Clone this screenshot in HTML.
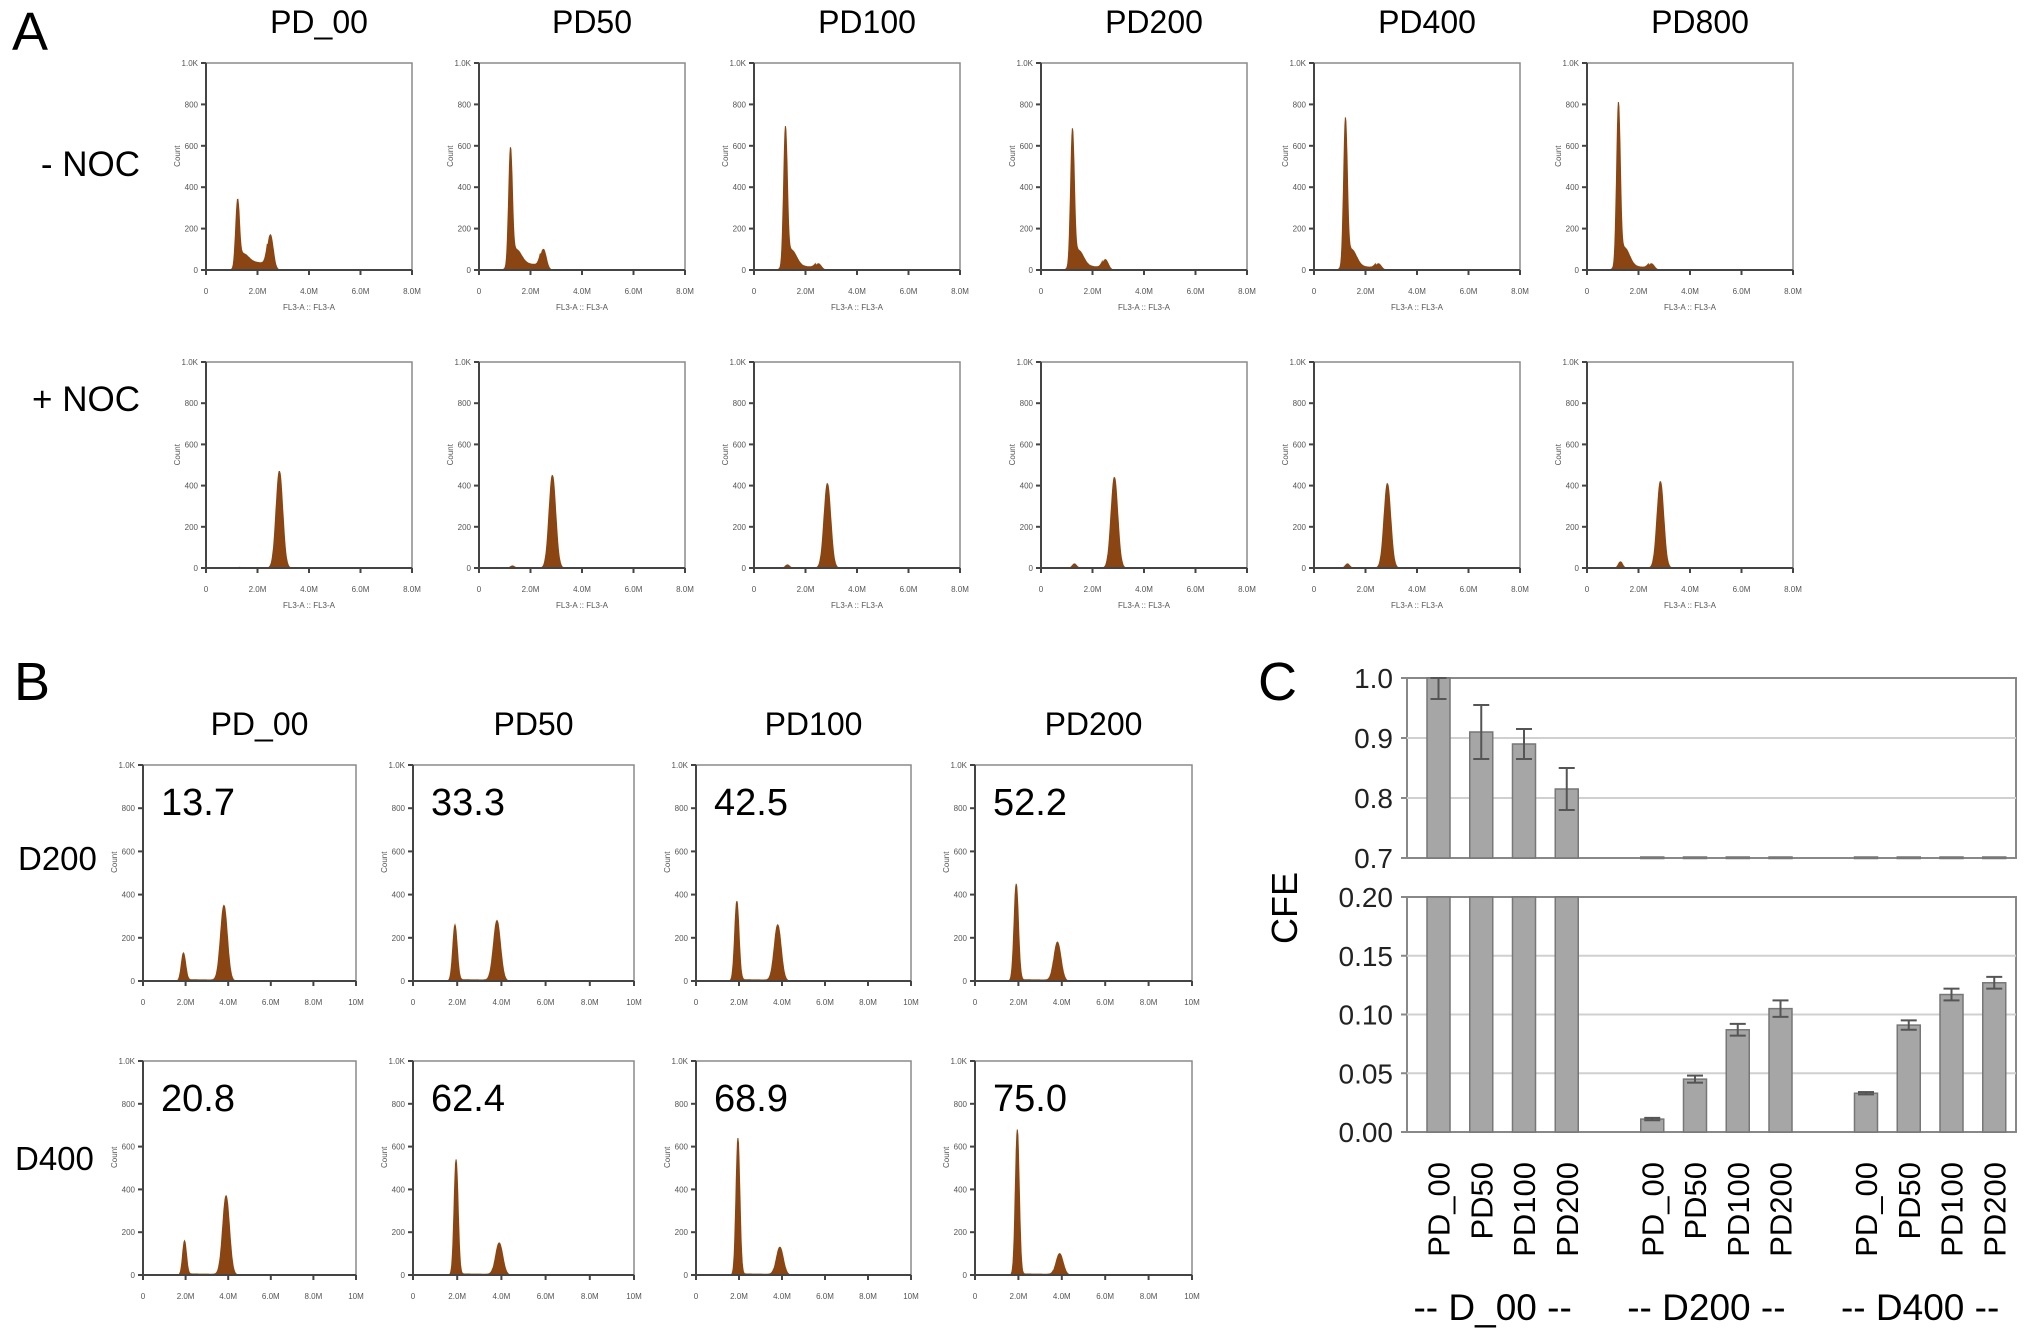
<!DOCTYPE html>
<html><head><meta charset="utf-8">
<style>
html,body{margin:0;padding:0;background:#fff;}
svg{display:block;font-family:"Liberation Sans",Arial,sans-serif;}
</style></head>
<body>
<svg id="fig" width="2031" height="1343" viewBox="0 0 2031 1343" xmlns="http://www.w3.org/2000/svg">
<g id="labels">
<text x="12" y="50" font-size="54">A</text>
<text x="14" y="700" font-size="54">B</text>
<text x="1258" y="700" font-size="54">C</text>
<text x="140" y="176" font-size="35" text-anchor="end">- NOC</text>
<text x="140" y="411" font-size="35" text-anchor="end">+ NOC</text>
<text x="18" y="870" font-size="33">D200</text>
<text x="15" y="1170" font-size="33">D400</text>
</g>
<g id="histA"></g>
<g id="histB"></g>
<g id="chartC"></g>
</svg>
<script>
// ---- Panel A data ----
const aTitles = ["PD_00","PD50","PD100","PD200","PD400","PD800"];
const aG1NocMinus = [310,550,650,640,690,760];      // G1 peak counts (-NOC)
const aG2NocMinus = [170,100,30,50,30,30];         // G2 peak counts (-NOC)
const aSNocMinus = [45,35,20,20,18,18];            // S-phase plateau
const aG2NocPlus = [470,450,410,440,410,420];      // G2/M peak (+NOC)
const aG1NocPlus = [3,10,15,20,20,30];             // residual G1 (+NOC)
const aXTicks = ["0","2.0M","4.0M","6.0M","8.0M"];
const aXMax = 8;
// ---- Panel B data ----
const bTitles = ["PD_00","PD50","PD100","PD200"];
const bD200Values = ["13.7","33.3","42.5","52.2"];
const bD400Values = ["20.8","62.4","68.9","75.0"];
const bD200G1 = [130,260,370,450];
const bD200G2 = [350,280,260,180];
const bD400G1 = [160,540,640,680];
const bD400G2 = [370,150,130,100];
const bXTicks = ["0","2.0M","4.0M","6.0M","8.0M","10M"];
const bXMax = 10;
const yTicks = ["0","200","400","600","800","1.0K"];
// ---- Panel C data ----
const cCategories = ["PD_00","PD50","PD100","PD200"];
const cGroups = ["-- D_00 --","-- D200 --","-- D400 --"];
const cD00 = [1.0,0.91,0.89,0.815];
const cD00Err = [0.035,0.045,0.025,0.035];
const cD200 = [0.011,0.045,0.087,0.105];
const cD200Err = [0.001,0.003,0.005,0.007];
const cD400 = [0.033,0.091,0.117,0.127];
const cD400Err = [0.001,0.004,0.005,0.005];
const cUpperTicks = ["0.7","0.8","0.9","1.0"];
const cLowerTicks = ["0.00","0.05","0.10","0.15","0.20"];

const NS="http://www.w3.org/2000/svg";
function mk(tag,attrs,parent){const e=document.createElementNS(NS,tag);for(const k in attrs)e.setAttribute(k,attrs[k]);if(parent)parent.appendChild(e);return e;}
const BROWN="#8a4512";

function histo(parent,x0,y0,w,h,xmax,xt,peaks,title,numLabel,showFL){
  const g=mk('g',{},parent);
  
  
  const sx=v=>x0+v/xmax*w, sy=c=>y0+h-c/1000*h;
  let d=`M${x0},${y0+h}`;
  for(let i=0;i<=400;i++){
    const v=i/400*xmax;let c=0;
    peaks.forEach(p=>{ if(p.type==='g') c+=p.h*Math.exp(-0.5*Math.pow((v-p.x)/p.s,2));
      else if(p.type==='s'){ if(v>p.a&&v<p.b) c+=p.h*(1-0.3*(v-p.a)/(p.b-p.a))*Math.min(1,(v-p.a)/0.08); } });
    d+=` L${sx(v).toFixed(1)},${Math.max(y0,sy(c)).toFixed(1)}`;
  }
  d+=` L${x0+w},${y0+h} Z`;
  const path=mk('path',{d:d,fill:BROWN,stroke:BROWN,'stroke-width':1},g);
  
  
  const fr=mk('rect',{x:x0,y:y0,width:w,height:h,fill:'none',stroke:'#8a8a8a','stroke-width':1.5},g);
  
  
  mk('line',{x1:x0,y1:y0,x2:x0,y2:y0+h,stroke:'#444','stroke-width':2},g);
  mk('line',{x1:x0,y1:y0+h,x2:x0+w,y2:y0+h,stroke:'#444','stroke-width':2},g);
  yTicks.forEach((t,i)=>{const yy=sy(i*200);
    mk('line',{x1:x0-5,y1:yy,x2:x0,y2:yy,stroke:'#444','stroke-width':2},g);
    const tx=mk('text',{x:x0-8,y:yy+3,'font-size':8,'text-anchor':'end',fill:'#555'},g);tx.textContent=t;});
  xt.forEach((t,i)=>{const xx=x0+i/(xt.length-1)*w;
    mk('line',{x1:xx,y1:y0+h,x2:xx,y2:y0+h+5,stroke:'#444','stroke-width':2},g);
    const tx=mk('text',{x:xx,y:y0+h+24,'font-size':8,'text-anchor':'middle',fill:'#555'},g);tx.textContent=t;});
  const cy=mk('text',{x:0,y:0,'font-size':8,'text-anchor':'middle',fill:'#555',transform:`translate(${x0-26},${y0+h*0.45}) rotate(-90)`},g);cy.textContent='Count';
  if(showFL){const fl=mk('text',{x:x0+w/2,y:y0+h+40,'font-size':8,'text-anchor':'middle',fill:'#555'},g);fl.textContent='FL3-A :: FL3-A';}
  if(title){const tt=mk('text',{x:x0+w/2+10,y:y0-30,'font-size':32,'text-anchor':'middle'},g);tt.textContent=title;
    }
  if(numLabel){const nl=mk('text',{x:x0+18,y:y0+50,'font-size':38},g);nl.textContent=numLabel;
    }
}

const gA=document.getElementById('histA');
const aLefts=[206,479,754,1041,1314,1587];
aTitles.forEach((t,i)=>{
  histo(gA,aLefts[i],63,206,207,aXMax,aXTicks,[
    {type:'g',x:1.22,s:0.07,h:aG1NocMinus[i]},
    {type:'g',x:1.45,s:0.2,h:aG1NocMinus[i]*0.12},
    {type:'s',a:1.2,b:2.4,h:aSNocMinus[i]},
    {type:'g',x:2.5,s:0.11,h:aG2NocMinus[i]}],t,null,true);
  histo(gA,aLefts[i],362,206,206,aXMax,aXTicks,[
    {type:'g',x:1.3,s:0.08,h:aG1NocPlus[i]},
    {type:'g',x:2.85,s:0.13,h:aG2NocPlus[i]}],null,null,true);
});

const gB=document.getElementById('histB');
const bLefts=[143,413,696,975], bW=[213,221,215,217];
bTitles.forEach((t,i)=>{
  histo(gB,bLefts[i],765,bW[i],216,bXMax,bXTicks,[
    {type:'g',x:1.9,s:0.1,h:bD200G1[i]},
    {type:'s',a:1.95,b:3.6,h:6},
    {type:'g',x:3.8,s:0.16,h:bD200G2[i]}],t,bD200Values[i],false);
  histo(gB,bLefts[i],1061,bW[i],214,bXMax,bXTicks,[
    {type:'g',x:1.95,s:0.09,h:bD400G1[i]},
    {type:'s',a:2.0,b:3.6,h:5},
    {type:'g',x:3.9,s:0.16,h:bD400G2[i]}],null,bD400Values[i],false);
});

// ---- Panel C ----
const gC=document.getElementById('chartC');
const L=1407,R=2016,uTop=678,uBot=858,lTop=897,lBot=1132;
const yU=v=>uBot-(v-0.7)/0.3*(uBot-uTop);
const yL=v=>lBot-Math.min(v,0.2)/0.2*(lBot-lTop);
const slot0=1438.5,slotW=42.75,barW=23;
const xOf=(gi,ci)=>slot0+(gi*5+ci)*slotW;
[[uTop,uBot],[lTop,lBot]].forEach(([t,b],k)=>{
  const f=mk('rect',{x:L,y:t,width:R-L,height:b-t,fill:'none',stroke:'#888','stroke-width':2},gC);
  
  
});
cUpperTicks.forEach(t=>{const v=parseFloat(t),yy=yU(v);
  if(v>0.7&&v<1.0) mk('line',{x1:L,y1:yy,x2:R,y2:yy,stroke:'#d0d0d0','stroke-width':2},gC);
  mk('line',{x1:L-6,y1:yy,x2:L,y2:yy,stroke:'#888','stroke-width':2},gC);
  const tx=mk('text',{x:L-14,y:yy+10,'font-size':28,'text-anchor':'end',fill:'#222'},gC);tx.textContent=t;
  });
cLowerTicks.forEach(t=>{const v=parseFloat(t),yy=yL(v);
  if(v>0&&v<0.2) mk('line',{x1:L,y1:yy,x2:R,y2:yy,stroke:'#d0d0d0','stroke-width':2},gC);
  mk('line',{x1:L-6,y1:yy,x2:L,y2:yy,stroke:'#888','stroke-width':2},gC);
  const tx=mk('text',{x:L-14,y:yy+10,'font-size':28,'text-anchor':'end',fill:'#222'},gC);tx.textContent=t;
  });
const yt=mk('text',{x:0,y:0,'font-size':36,'text-anchor':'middle',transform:'translate(1297,908) rotate(-90)'},gC);yt.textContent='CFE';


const series=[[cD00,cD00Err],[cD200,cD200Err],[cD400,cD400Err]];
series.forEach(([vals,errs],gi)=>{
  vals.forEach((v,ci)=>{
    const cx=xOf(gi,ci),e=errs[ci];
    const ut=v>0.7?yU(Math.min(v,1.0)):uBot-1;
    const ub=mk('rect',{x:cx-barW/2,y:ut,width:barW,height:Math.max(1.5,uBot-ut),fill:'#a6a6a6',stroke:'#777','stroke-width':1.5},gC);
    
    
    const lt=yL(v);
    const lb=mk('rect',{x:cx-barW/2,y:lt,width:barW,height:lBot-lt,fill:'#a6a6a6',stroke:'#777','stroke-width':1.5},gC);
    
    
    const yf=v>0.7?yU:yL;
    const hi=Math.min(v+e,v>0.7?1.0:0.2),lo=v-e;
    const eg=mk('g',{stroke:'#555','stroke-width':2},gC);
    
    
    mk('line',{x1:cx,y1:yf(hi),x2:cx,y2:yf(lo)},eg);
    mk('line',{x1:cx-8,y1:yf(hi),x2:cx+8,y2:yf(hi)},eg);
    mk('line',{x1:cx-8,y1:yf(lo),x2:cx+8,y2:yf(lo)},eg);
    const lab=mk('text',{x:0,y:0,'font-size':31,'text-anchor':'end',transform:`translate(${cx+11},1162) rotate(-90)`},gC);
    lab.textContent=cCategories[ci];
    
    
  });
  const gl=mk('text',{x:xOf(gi,1.5)-10,y:1320,'font-size':37,'text-anchor':'middle'},gC);
  gl.textContent=cGroups[gi];
  
  
});
</script>
</body></html>
